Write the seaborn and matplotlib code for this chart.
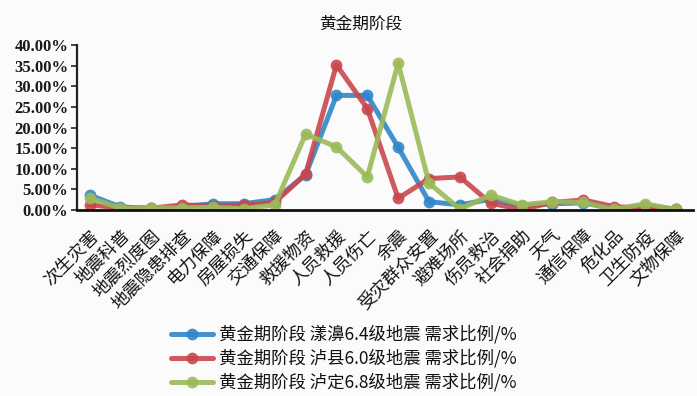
import matplotlib
matplotlib.use("Agg")
import matplotlib.pyplot as plt
import seaborn as sns
import pandas as pd
from matplotlib.ticker import FuncFormatter, MultipleLocator

sns.set_theme(style="white")
plt.rcParams["font.family"] = ["Noto Sans CJK SC", "DejaVu Sans"]

categories = ["次生灾害", "地震科普", "地震烈度图", "地震隐患排查", "电力保障", "房屋损失",
              "交通保障", "救援物资", "人员救援", "人员伤亡", "余震", "受灾群众安置",
              "避难场所", "伤员救治", "社会捐助", "天气", "通信保障", "危化品",
              "卫生防疫", "文物保障"]

yangbi = [3.6, 0.7, 0.4, 0.8, 1.5, 1.5, 2.5, 8.5, 27.8, 27.8, 15.2, 2.0,
          1.2, 2.6, 1.0, 1.5, 1.7, 0.3, 0.9, 0.2]
luxian = [1.2, 0.5, 0.4, 1.2, 1.0, 1.2, 1.8, 8.7, 35.2, 24.6, 2.8, 7.6,
          8.0, 1.6, 0.1, 1.8, 2.4, 0.8, 0.4, 0.2]
luding = [2.9, 0.4, 0.5, 0.5, 0.6, 0.3, 1.2, 18.4, 15.3, 8.0, 35.6, 6.5,
          0.2, 3.6, 1.2, 2.0, 1.8, 0.1, 1.5, 0.1]

series_names = ["黄金期阶段 漾濞6.4级地震 需求比例/%",
                "黄金期阶段 泸县6.0级地震 需求比例/%",
                "黄金期阶段 泸定6.8级地震 需求比例/%"]
colors = ["#2f86c8", "#c9474e", "#9bbb59"]

frames = []
for name, vals in zip(series_names, [yangbi, luxian, luding]):
    frames.append(pd.DataFrame({"类别": categories, "比例": vals, "系列": name}))
df = pd.concat(frames, ignore_index=True)
df["pos"] = df["类别"].map({c: i for i, c in enumerate(categories)})

bg = "#fbfbfb"
fig = plt.figure(figsize=(6.97, 3.96), dpi=100, facecolor=bg)
ax = fig.add_axes([0.110, 0.470, 0.884, 0.416], facecolor=bg)

sns.lineplot(data=df, x="pos", y="比例", hue="系列", palette=colors,
             marker="o", markersize=8.5, linewidth=3.6, markeredgewidth=0,
             alpha=0.9, sort=False, ax=ax, legend=True)

ax.set_xlim(-0.42, 19.55)
ax.set_ylim(0, 40)
ax.yaxis.set_major_locator(MultipleLocator(5))
ax.yaxis.set_major_formatter(FuncFormatter(lambda v, p: f"{v:.2f}%"))
ax.set_xticks(range(len(categories)))
ax.set_xticklabels(categories, rotation=45, ha="right", va="top",
                   rotation_mode="anchor", fontsize=12.5, color="#111111")
ax.tick_params(axis="x", length=0, pad=12)
ax.tick_params(axis="y", length=4, width=1.2, color="#222222", pad=2, left=True)
for lab in ax.get_yticklabels():
    lab.set_family(["Liberation Serif", "Noto Sans CJK SC"])
    lab.set_fontweight("bold")
    lab.set_fontsize(12)
    lab.set_color("#1a1a1a")
ax.set_xlabel("")
ax.set_ylabel("")
for s in ["top", "right"]:
    ax.spines[s].set_visible(False)
ax.spines["left"].set_color("#222222")
ax.spines["left"].set_linewidth(1.6)
ax.spines["bottom"].set_color("#111111")
ax.spines["bottom"].set_linewidth(2.0)
ax.grid(False)

fig.text(0.518, 0.939, "黄金期阶段", ha="center", va="center",
         fontsize=12, fontweight="medium", color="#111111")

handles, labels = ax.get_legend_handles_labels()
ax.get_legend().remove()
leg = fig.legend(handles, labels, loc="upper left",
                 bbox_to_anchor=(0.236, 0.196), frameon=False,
                 fontsize=12.5, handlelength=2.4, handletextpad=0.35,
                 labelspacing=0.3, borderaxespad=0)
for t in leg.get_texts():
    t.set_color("#111111")

fig.savefig("out.png", dpi=100, facecolor=bg)
